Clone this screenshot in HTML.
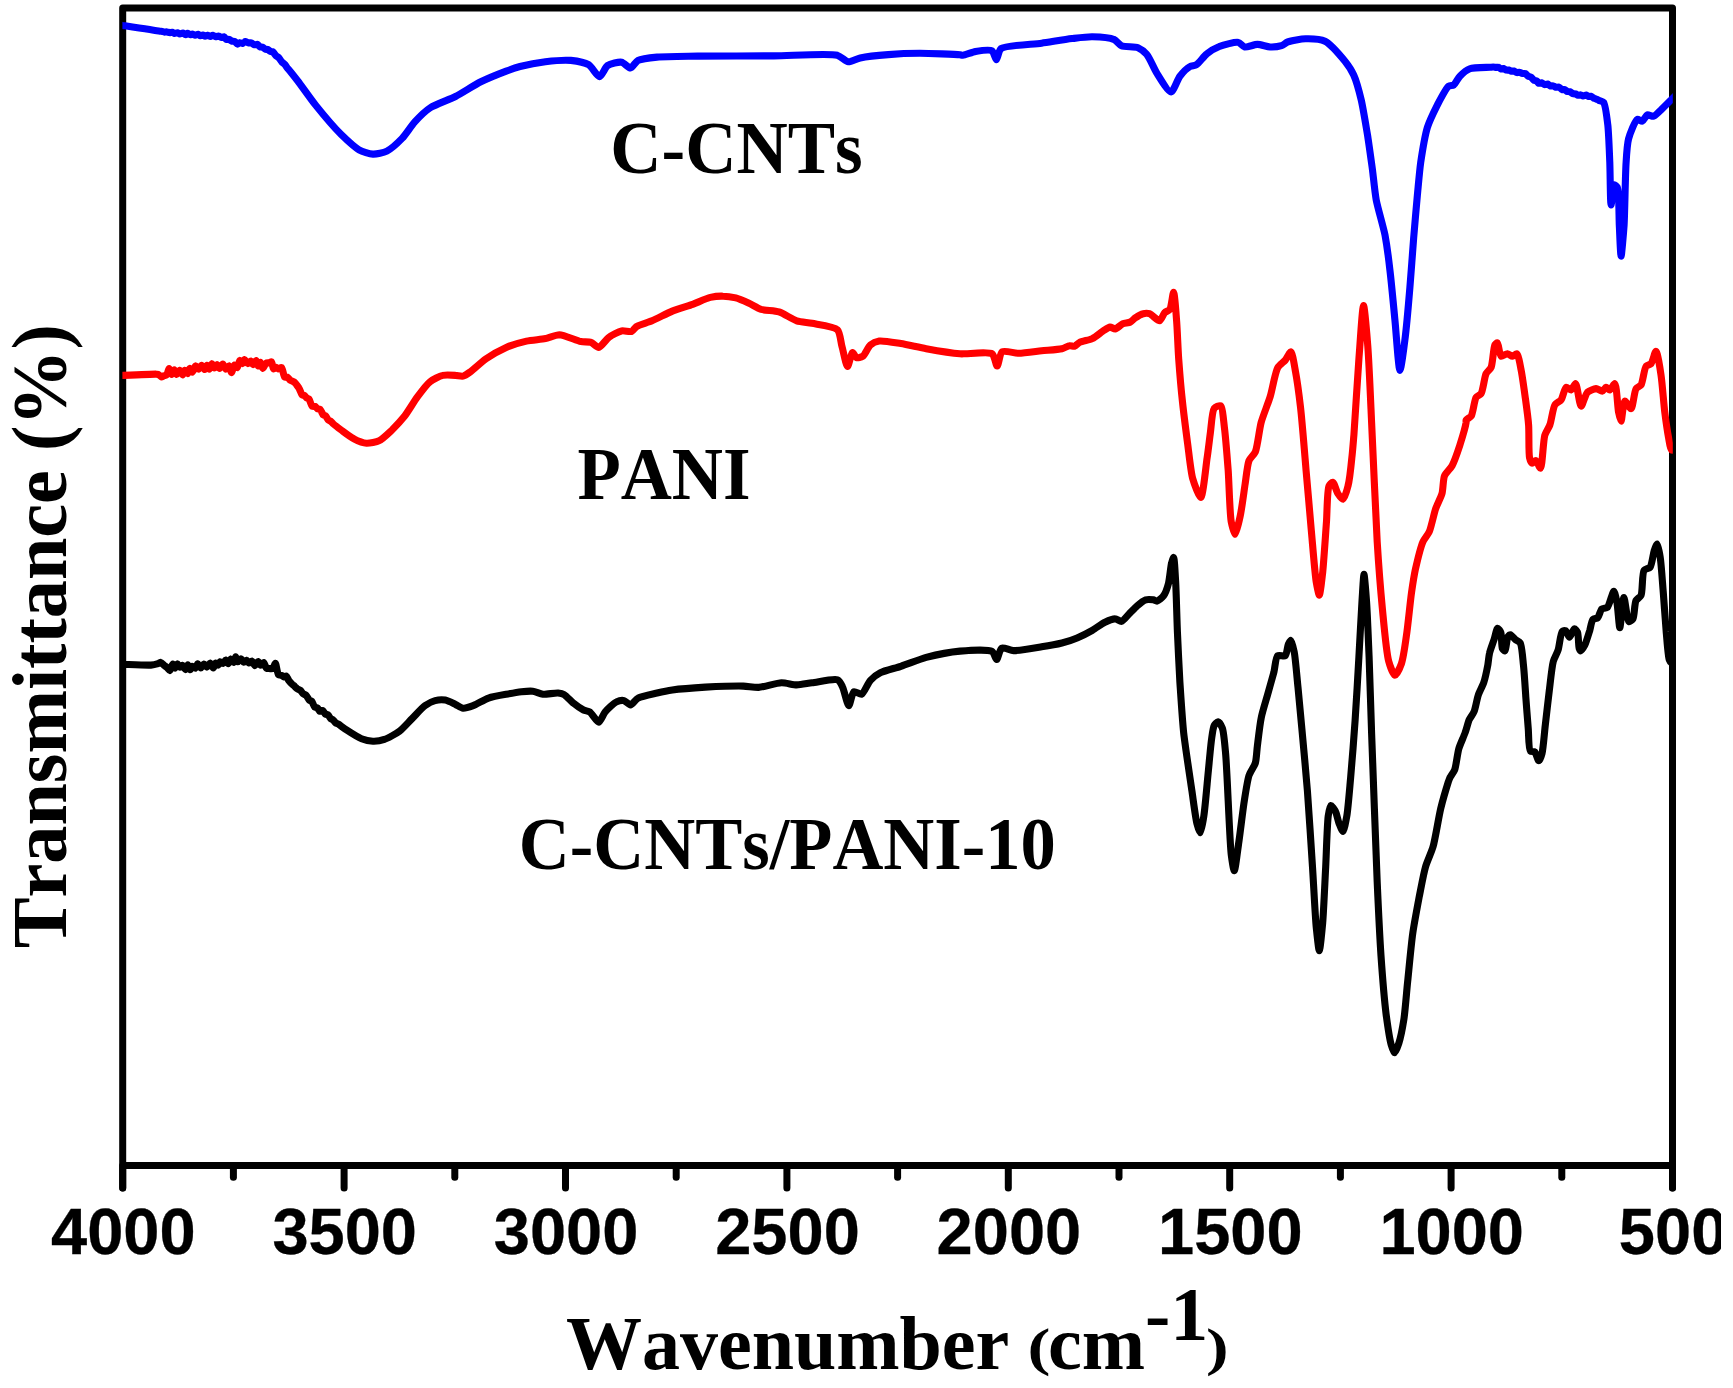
<!DOCTYPE html>
<html><head><meta charset="utf-8"><title>FTIR</title>
<style>
html,body{margin:0;padding:0;background:#fff;}
body{width:1733px;height:1388px;overflow:hidden;}
svg{display:block;}
.serif{font-family:"Liberation Serif",serif;font-weight:bold;font-kerning:none;}
.sans{font-family:"Liberation Sans",sans-serif;font-weight:bold;font-kerning:none;}
</style></head><body>
<svg width="1733" height="1388" viewBox="0 0 1733 1388">
<rect width="1733" height="1388" fill="#fff"/>
<g stroke="#000" stroke-width="7" stroke-linecap="round" fill="none">
<line x1="122.7" y1="1165.4" x2="122.7" y2="1188" />
<line x1="233.4" y1="1165.4" x2="233.4" y2="1177.2" />
<line x1="344.1" y1="1165.4" x2="344.1" y2="1188" />
<line x1="454.8" y1="1165.4" x2="454.8" y2="1177.2" />
<line x1="565.5" y1="1165.4" x2="565.5" y2="1188" />
<line x1="676.2" y1="1165.4" x2="676.2" y2="1177.2" />
<line x1="786.9" y1="1165.4" x2="786.9" y2="1188" />
<line x1="897.6" y1="1165.4" x2="897.6" y2="1177.2" />
<line x1="1008.3" y1="1165.4" x2="1008.3" y2="1188" />
<line x1="1119.0" y1="1165.4" x2="1119.0" y2="1177.2" />
<line x1="1229.7" y1="1165.4" x2="1229.7" y2="1188" />
<line x1="1340.4" y1="1165.4" x2="1340.4" y2="1177.2" />
<line x1="1451.1" y1="1165.4" x2="1451.1" y2="1188" />
<line x1="1561.8" y1="1165.4" x2="1561.8" y2="1177.2" />
<line x1="1672.5" y1="1165.4" x2="1672.5" y2="1188" />
</g>
<g stroke="#000" stroke-width="7" fill="none" stroke-linejoin="round">
<path d="M122.7,1188 L122.7,8.1 L1672.5,8.1 L1672.5,1188" stroke-linecap="round"/>
<line x1="122.7" y1="1165.4" x2="1672.5" y2="1165.4"/>
</g>
<clipPath id="tl"><rect x="0" y="1190" width="1721" height="90"/></clipPath>
<clipPath id="pa"><rect x="122.4" y="0" width="1550.4" height="1388"/></clipPath>
<g fill="none" stroke-linejoin="round" stroke-linecap="butt" stroke-width="7.1" clip-path="url(#pa)">
<path stroke="#0000ff" d="M116.3,24.5 C116.3,24.5 120.3,25.1 122.3,25.4 C127.4,26.2 156.5,30.8 160.0,31.2 C160.8,31.3 161.7,31.3 162.3,31.4 C162.8,31.5 163.9,32.0 164.4,32.1 C165.0,32.1 166.3,31.8 166.9,31.9 C167.5,32.0 169.0,32.5 169.6,32.6 C170.2,32.6 171.6,32.2 172.2,32.3 C172.7,32.4 173.8,33.3 174.4,33.4 C175.0,33.5 176.8,32.7 177.4,32.8 C178.0,32.9 179.2,34.0 179.8,34.0 C180.4,34.1 182.3,32.9 183.0,33.1 C183.6,33.2 184.9,34.8 185.5,34.8 C186.0,34.8 187.1,33.4 187.6,33.3 C188.2,33.3 189.5,34.7 190.1,34.7 C190.6,34.8 191.7,34.1 192.3,34.1 C192.9,34.1 194.6,35.1 195.3,35.2 C196.0,35.2 197.5,34.2 198.1,34.3 C198.7,34.4 200.0,35.7 200.6,35.8 C201.1,35.8 202.2,35.0 202.7,35.0 C203.3,35.1 204.5,36.2 205.1,36.2 C205.6,36.3 207.0,35.2 207.6,35.3 C208.3,35.3 209.8,36.5 210.4,36.5 C211.0,36.5 212.2,35.3 212.8,35.3 C213.5,35.4 215.0,36.7 215.7,36.8 C216.4,36.8 217.8,35.9 218.5,36.0 C219.2,36.0 220.9,37.5 221.6,37.5 C222.2,37.6 223.5,36.7 224.0,36.8 C224.6,37.0 225.6,38.8 226.2,39.2 C226.8,39.5 228.5,39.3 229.2,39.5 C229.9,39.7 231.2,41.0 231.8,41.2 C232.5,41.5 234.1,41.1 234.7,41.4 C235.4,41.7 236.8,44.0 237.4,44.1 C238.0,44.2 239.3,42.7 239.9,42.7 C240.5,42.6 242.1,43.6 242.7,43.4 C243.3,43.3 244.6,41.6 245.3,41.5 C246.0,41.4 247.7,42.7 248.5,42.9 C249.1,43.0 250.7,42.7 251.3,42.9 C252.0,43.1 253.5,44.7 254.2,44.8 C254.9,45.0 256.8,44.2 257.5,44.4 C258.1,44.7 259.2,46.5 259.9,46.8 C260.5,47.1 262.1,47.0 262.7,47.3 C263.4,47.6 264.8,48.9 265.4,49.1 C265.9,49.4 267.1,49.3 267.6,49.5 C268.3,49.7 269.9,51.2 270.6,51.5 C271.1,51.7 272.4,51.5 272.9,51.8 C273.7,52.3 275.3,55.1 276.0,55.8 C276.6,56.3 278.1,56.9 278.6,57.4 C279.4,58.2 281.0,61.0 281.8,61.8 C282.4,62.6 284.2,63.8 284.8,64.5 C285.5,65.2 286.8,67.3 287.4,68.1 C288.1,69.0 289.7,70.7 290.5,71.7 C291.9,73.4 295.9,78.5 298.0,81.2 C301.3,85.6 311.2,99.6 315.8,105.4 C321.1,112.0 335.6,129.0 341.2,134.6 C345.6,138.9 354.8,147.5 359.0,149.8 C362.2,151.6 369.7,154.0 372.9,154.1 C376.2,154.3 383.8,152.6 386.9,151.1 C390.6,149.3 398.9,141.7 402.1,138.4 C405.4,134.9 411.6,125.4 414.8,121.9 C418.1,118.3 425.8,110.7 430.1,107.9 C435.0,104.6 449.6,99.5 455.5,96.5 C461.5,93.4 474.8,84.8 480.8,81.8 C486.7,78.9 501.2,73.0 506.2,71.1 C509.9,69.7 516.3,67.5 520.0,66.5 C525.0,65.2 539.4,62.4 545.4,61.7 C551.3,61.0 565.4,59.9 570.8,60.4 C575.3,60.9 585.1,62.7 588.6,64.7 C591.8,66.6 597.2,76.8 599.5,76.7 C601.6,76.6 605.1,67.2 607.6,65.5 C610.2,63.8 618.8,61.7 621.6,62.2 C624.0,62.6 628.5,68.2 630.4,68.0 C632.4,67.8 635.6,61.7 638.1,60.4 C641.3,58.7 651.8,57.6 657.1,57.1 C664.8,56.4 686.8,56.3 697.7,56.1 C712.7,55.9 756.9,56.0 773.9,55.9 C789.4,55.8 828.9,53.1 837.4,55.3 C841.2,56.4 845.6,61.4 848.3,61.7 C851.0,62.0 856.8,58.6 860.2,57.9 C865.3,56.8 881.4,55.1 888.2,54.6 C895.3,54.0 912.0,53.3 919.9,53.3 C928.7,53.3 956.1,54.4 960.0,54.8 C961.1,55.0 962.0,55.4 962.9,55.3 C964.8,55.2 972.4,52.1 975.5,51.5 C979.1,50.9 989.6,49.3 992.0,50.8 C993.9,51.9 995.4,59.7 996.4,59.7 C997.5,59.6 998.5,50.7 1000.9,48.7 C1005.5,45.2 1032.8,44.4 1041.6,43.2 C1049.2,42.1 1065.6,39.4 1072.0,38.6 C1077.2,38.0 1087.5,36.7 1092.3,36.8 C1097.3,36.9 1110.3,37.8 1113.9,39.4 C1116.4,40.4 1119.2,44.7 1121.5,45.7 C1124.5,47.0 1134.9,46.5 1138.0,47.7 C1140.6,48.8 1145.0,52.3 1146.9,54.6 C1149.6,57.7 1154.3,69.3 1157.1,73.6 C1159.9,78.1 1168.3,92.1 1171.0,91.9 C1173.5,91.7 1177.5,79.2 1179.9,76.2 C1182.0,73.5 1187.8,67.8 1190.1,66.5 C1191.6,65.6 1194.9,65.7 1196.4,64.7 C1198.7,63.4 1203.9,56.2 1206.6,54.1 C1209.3,51.9 1215.9,47.8 1219.3,46.5 C1223.2,44.9 1235.2,41.7 1238.3,42.4 C1240.3,42.8 1242.8,46.6 1244.7,47.0 C1247.0,47.5 1254.4,44.4 1257.4,44.4 C1260.3,44.4 1267.2,46.8 1270.1,47.0 C1272.8,47.1 1279.3,46.4 1281.5,45.7 C1283.3,45.1 1285.9,42.6 1287.8,41.9 C1290.9,40.8 1301.4,38.9 1305.6,38.8 C1310.0,38.7 1320.8,39.2 1325.0,41.2 C1330.1,43.7 1341.4,56.8 1345.0,61.2 C1347.7,64.6 1352.0,71.1 1353.7,75.0 C1355.9,79.8 1359.7,93.6 1361.2,99.9 C1363.0,107.4 1366.1,126.7 1367.5,134.9 C1368.8,143.1 1371.4,162.1 1372.5,169.9 C1373.4,177.2 1374.9,192.7 1376.2,199.9 C1377.7,207.8 1383.3,226.8 1385.0,235.0 C1386.5,243.1 1388.9,261.1 1389.9,270.0 C1391.2,280.6 1393.8,308.2 1394.9,319.9 C1396.1,331.7 1398.6,370.4 1399.9,370.4 C1401.0,370.4 1403.9,348.0 1404.9,339.9 C1406.3,329.3 1408.9,299.5 1409.9,287.4 C1410.9,275.7 1412.8,248.7 1413.7,237.5 C1414.5,227.1 1416.6,204.2 1417.4,194.9 C1418.2,186.8 1419.6,170.1 1420.7,162.4 C1421.9,154.4 1425.2,134.6 1427.4,127.4 C1429.3,121.5 1434.9,109.9 1437.4,104.9 C1439.8,100.3 1446.2,88.0 1448.7,86.2 C1449.9,85.3 1452.6,85.7 1453.7,85.0 C1455.3,83.9 1458.1,78.0 1459.9,76.2 C1461.8,74.2 1467.0,69.8 1469.9,68.7 C1473.6,67.3 1487.3,67.5 1490.0,67.3 C1491.1,67.2 1492.5,67.0 1493.2,67.0 C1493.9,67.0 1495.5,67.4 1496.1,67.4 C1496.7,67.4 1498.0,67.1 1498.5,67.3 C1499.1,67.4 1500.2,68.8 1500.8,68.9 C1501.4,69.1 1502.8,68.4 1503.4,68.5 C1504.1,68.7 1505.4,69.8 1506.1,70.0 C1506.7,70.2 1508.5,70.0 1509.1,70.1 C1509.7,70.3 1510.9,71.1 1511.5,71.2 C1512.0,71.3 1513.3,70.9 1513.9,71.0 C1514.6,71.2 1516.3,72.5 1517.0,72.6 C1517.6,72.7 1518.7,72.1 1519.2,72.2 C1519.9,72.3 1521.7,73.4 1522.5,73.5 C1523.1,73.6 1524.7,73.3 1525.3,73.5 C1526.0,73.8 1527.4,75.8 1528.1,76.2 C1528.8,76.6 1530.4,76.7 1531.0,77.1 C1531.7,77.6 1533.1,79.7 1533.9,80.2 C1534.5,80.5 1536.1,80.5 1536.6,80.9 C1537.2,81.2 1538.2,83.1 1538.8,83.3 C1539.3,83.5 1540.8,82.7 1541.4,82.8 C1542.2,83.0 1543.9,84.4 1544.6,84.6 C1545.3,84.7 1546.9,83.9 1547.5,84.0 C1548.2,84.2 1549.3,85.6 1550.0,85.8 C1550.6,86.0 1552.4,85.7 1553.1,85.9 C1553.8,86.0 1555.3,87.1 1556.0,87.3 C1556.7,87.4 1558.3,86.9 1558.9,87.1 C1559.7,87.3 1561.4,89.3 1562.1,89.6 C1562.7,89.8 1564.2,89.4 1564.8,89.6 C1565.4,89.8 1566.5,91.1 1567.0,91.4 C1567.6,91.6 1569.1,91.4 1569.7,91.6 C1570.5,91.9 1572.1,93.4 1572.9,93.7 C1573.5,93.9 1575.1,93.8 1575.8,93.9 C1576.4,94.1 1577.5,95.2 1578.1,95.3 C1578.7,95.4 1580.0,94.8 1580.6,94.9 C1581.2,95.0 1582.5,95.9 1583.2,96.0 C1583.9,96.0 1585.6,95.0 1586.2,95.1 C1586.8,95.2 1588.0,96.4 1588.5,96.5 C1589.0,96.6 1590.2,96.0 1590.8,96.2 C1591.5,96.3 1593.3,97.9 1594.0,98.3 C1594.7,98.6 1596.4,99.1 1597.0,99.3 C1597.5,99.6 1598.5,100.2 1599.1,100.5 C1599.9,100.9 1602.7,101.4 1603.6,102.4 C1605.4,104.8 1607.1,119.0 1607.8,124.9 C1608.7,132.5 1609.4,153.4 1609.8,162.4 C1610.2,172.0 1610.3,204.8 1611.1,204.9 C1611.6,204.9 1613.0,185.4 1614.3,184.9 C1614.9,184.7 1616.8,186.3 1617.3,187.4 C1619.1,190.9 1618.9,216.6 1619.3,225.0 C1619.7,232.6 1620.5,256.2 1621.1,256.2 C1621.6,256.2 1623.5,233.5 1624.1,225.0 C1624.8,212.9 1625.3,173.5 1626.1,162.4 C1626.5,155.5 1627.2,143.8 1628.6,138.7 C1629.9,133.8 1635.1,120.4 1637.3,119.4 C1638.4,119.0 1641.2,121.5 1642.3,121.2 C1643.6,120.8 1645.9,115.4 1647.3,114.9 C1648.6,114.5 1652.1,116.5 1653.5,116.2 C1655.3,115.7 1659.2,111.7 1661.0,109.9 C1663.4,107.7 1670.1,100.9 1672.3,98.7 C1673.9,97.1 1678.3,92.7 1678.3,92.7"/>
<path stroke="#ff0000" d="M116.3,375.6 C116.3,375.6 120.4,375.4 122.3,375.4 C127.0,375.2 154.9,374.0 155.9,374.1 C155.9,374.1 155.9,374.1 156.0,374.1 C156.2,374.2 158.1,374.4 158.7,374.7 C159.4,375.0 160.9,376.9 161.5,377.0 C162.0,377.0 163.1,376.1 163.7,375.9 C164.3,375.6 166.1,375.3 166.7,374.7 C167.5,373.9 168.5,368.6 169.1,368.6 C169.7,368.6 171.1,374.4 171.7,374.4 C172.3,374.5 173.8,369.7 174.3,369.7 C174.9,369.7 176.0,374.3 176.6,374.4 C177.2,374.4 179.0,370.3 179.7,370.4 C180.4,370.4 182.0,374.9 182.6,374.9 C183.2,374.8 184.2,370.3 184.8,370.2 C185.4,370.2 187.0,373.8 187.6,373.7 C188.2,373.7 189.1,368.5 189.7,368.4 C190.2,368.4 191.7,372.3 192.3,372.2 C193.1,372.2 194.6,366.0 195.4,365.9 C196.1,365.8 197.9,369.3 198.6,369.2 C199.3,369.2 200.9,365.3 201.6,365.3 C202.3,365.3 204.1,369.6 204.8,369.5 C205.4,369.5 206.4,365.4 207.0,365.3 C207.5,365.3 208.8,369.2 209.3,369.2 C209.9,369.2 211.3,363.8 211.9,363.8 C212.4,363.7 213.7,368.0 214.3,368.0 C214.9,368.1 216.3,364.5 216.9,364.5 C217.5,364.5 219.0,368.4 219.6,368.4 C220.3,368.4 222.0,364.0 222.8,364.0 C223.5,364.0 225.1,369.1 225.9,369.1 C226.6,369.2 228.6,365.7 229.2,365.8 C229.9,366.0 230.8,372.5 231.4,372.6 C232.1,372.6 233.8,365.2 234.6,365.0 C235.2,364.9 236.9,367.8 237.4,367.6 C238.1,367.4 239.0,360.5 239.7,360.4 C240.3,360.3 241.9,363.6 242.5,363.6 C243.1,363.5 244.0,359.6 244.6,359.6 C245.3,359.5 247.1,363.6 247.9,363.6 C248.5,363.7 250.3,361.0 250.9,361.1 C251.5,361.2 252.6,364.5 253.1,364.6 C253.8,364.6 255.5,360.5 256.1,360.6 C256.7,360.7 257.7,365.9 258.2,366.0 C258.7,366.0 259.9,362.2 260.4,362.2 C261.0,362.3 262.2,368.3 262.8,368.4 C263.5,368.4 265.2,363.8 266.1,363.3 C266.7,362.8 268.6,363.0 269.3,362.8 C269.9,362.6 271.1,361.7 271.5,361.9 C272.2,362.3 272.8,368.7 273.6,368.9 C274.1,369.1 275.6,367.4 276.2,367.4 C276.7,367.4 277.8,368.8 278.4,368.9 C279.1,368.9 280.9,367.3 281.5,367.6 C282.6,368.1 283.7,376.3 284.7,377.1 C285.2,377.5 286.7,376.8 287.2,377.1 C287.9,377.4 289.3,379.4 289.9,379.9 C290.4,380.3 291.5,380.8 292.0,381.0 C292.5,381.3 293.7,381.8 294.2,382.1 C294.8,382.6 295.9,384.1 296.5,384.7 C297.1,385.5 298.4,387.2 299.0,388.2 C299.8,389.4 301.2,393.9 302.0,394.7 C302.5,395.1 303.9,395.2 304.4,395.5 C305.0,395.9 306.2,397.6 306.8,398.0 C307.3,398.4 308.5,398.6 309.0,399.0 C309.8,399.9 311.2,405.5 312.1,406.2 C312.8,406.6 314.5,406.3 315.2,406.5 C315.8,406.8 316.9,408.4 317.5,408.8 C318.1,409.1 319.7,409.1 320.3,409.6 C321.1,410.3 322.6,414.4 323.4,415.1 C323.8,415.5 325.1,415.4 325.5,415.8 C326.3,416.3 327.7,419.5 328.4,420.1 C328.9,420.6 330.2,420.9 330.7,421.3 C331.3,421.7 332.2,422.9 332.9,423.5 C334.2,424.7 339.0,428.4 341.2,430.0 C343.8,431.9 350.8,437.3 353.9,438.8 C356.8,440.3 363.6,443.0 366.6,443.2 C369.5,443.3 376.5,442.0 379.3,440.6 C382.5,439.1 389.1,432.7 392.0,430.0 C395.0,427.0 401.8,419.6 404.7,416.0 C407.8,412.0 414.3,401.1 417.4,396.9 C420.2,393.1 426.8,384.3 430.1,381.7 C432.8,379.5 439.7,376.1 442.8,375.4 C445.6,374.7 452.9,375.2 455.5,375.4 C457.5,375.5 461.4,376.5 463.1,376.1 C464.9,375.7 468.7,373.0 470.7,371.6 C473.7,369.4 482.0,361.6 485.9,358.9 C490.2,355.9 501.4,349.5 506.2,347.4 C510.9,345.4 521.9,342.1 526.5,341.1 C531.0,340.1 541.3,339.4 545.4,338.6 C548.9,337.8 555.8,334.7 559.4,334.7 C563.9,334.8 576.8,340.8 580.9,341.6 C583.7,342.1 589.0,341.6 591.1,342.4 C593.1,343.1 596.9,347.6 598.7,347.4 C601.0,347.2 606.2,339.2 608.9,337.3 C611.5,335.4 618.7,331.5 621.6,330.9 C624.0,330.4 629.9,332.2 631.7,331.4 C633.3,330.8 635.1,327.4 636.8,326.4 C639.3,324.8 648.3,322.4 652.0,320.8 C656.5,318.9 667.5,313.1 672.3,311.1 C677.0,309.2 688.1,305.9 692.7,304.3 C697.0,302.7 706.6,298.3 710.4,297.4 C713.6,296.7 720.2,296.1 723.1,296.2 C726.1,296.2 732.9,297.2 735.8,297.9 C738.8,298.7 745.6,301.7 748.5,303.0 C751.5,304.3 757.9,308.3 761.2,309.4 C764.9,310.5 774.9,310.6 779.0,311.9 C783.2,313.2 792.7,319.5 796.7,320.8 C800.4,322.0 808.0,322.5 812.0,323.3 C817.2,324.4 834.0,326.4 837.4,329.7 C840.1,332.3 840.8,342.1 841.9,346.2 C843.2,350.7 846.2,366.4 847.5,366.5 C848.7,366.5 851.3,352.7 852.6,352.5 C853.4,352.4 855.2,357.1 856.4,357.6 C857.6,358.0 861.4,357.2 862.8,356.3 C864.8,355.0 868.2,346.7 870.4,344.9 C872.2,343.4 876.7,341.5 879.3,341.1 C883.1,340.5 895.6,342.8 900.8,343.6 C906.5,344.5 919.9,347.6 926.2,348.7 C933.5,350.0 955.5,353.4 960.0,353.8 C961.8,353.9 963.7,353.8 965.4,353.8 C969.2,353.8 988.5,351.4 992.0,353.8 C994.6,355.5 996.0,366.0 997.1,366.0 C998.4,365.9 999.8,353.3 1002.2,351.8 C1004.7,350.2 1014.5,353.3 1018.7,353.3 C1023.6,353.2 1036.4,351.3 1041.6,350.7 C1046.4,350.2 1058.3,349.6 1061.9,348.7 C1064.1,348.2 1067.9,345.9 1069.5,345.7 C1070.8,345.5 1073.4,346.5 1074.6,346.2 C1075.8,345.8 1078.1,343.1 1079.6,342.4 C1081.9,341.2 1089.6,339.9 1092.3,338.6 C1095.0,337.3 1100.3,332.9 1102.5,331.4 C1104.4,330.3 1108.5,327.3 1110.1,327.1 C1111.4,327.0 1113.9,329.1 1115.2,328.9 C1116.8,328.7 1121.0,324.6 1122.8,323.8 C1124.5,323.1 1128.9,322.8 1130.4,322.0 C1131.8,321.3 1134.1,318.7 1135.5,317.7 C1137.0,316.7 1141.4,314.1 1143.1,313.7 C1144.6,313.3 1147.9,313.2 1149.5,313.7 C1151.7,314.4 1157.8,321.2 1159.6,320.8 C1161.2,320.5 1163.3,314.0 1164.7,312.7 C1165.8,311.6 1168.8,310.7 1169.8,309.4 C1171.4,307.1 1172.8,292.3 1173.6,292.3 C1174.5,292.4 1176.1,313.7 1176.6,320.8 C1177.3,329.0 1178.0,349.7 1178.7,358.9 C1179.4,368.6 1181.4,392.1 1182.5,402.0 C1183.5,411.7 1186.3,433.5 1187.5,442.7 C1188.7,451.2 1190.7,471.3 1192.6,478.2 C1194.1,483.5 1199.2,497.6 1200.8,497.4 C1202.9,497.2 1205.9,466.3 1207.1,458.1 C1208.1,451.5 1209.6,438.4 1210.4,432.5 C1211.2,426.8 1212.1,411.1 1214.2,408.4 C1215.3,407.0 1219.4,405.2 1220.6,405.8 C1222.6,407.0 1223.6,421.5 1224.4,427.4 C1225.5,435.7 1227.4,460.1 1228.2,470.6 C1229.0,482.0 1229.8,513.7 1231.2,521.6 C1232.0,525.6 1234.1,534.3 1235.1,534.3 C1236.2,534.2 1239.1,521.3 1240.1,516.5 C1241.6,510.0 1244.1,490.5 1245.2,483.5 C1246.1,477.7 1247.4,464.6 1249.0,460.6 C1250.1,457.9 1254.1,454.6 1255.4,451.7 C1257.4,447.0 1259.4,428.9 1261.2,422.3 C1262.9,416.1 1268.2,403.1 1270.1,396.9 C1272.1,390.4 1275.2,372.2 1277.7,367.8 C1279.2,365.1 1283.7,362.0 1285.3,360.1 C1286.8,358.3 1289.8,351.6 1290.9,351.8 C1292.4,352.0 1294.5,366.2 1295.5,371.6 C1296.8,378.6 1299.4,397.6 1300.5,407.1 C1302.0,419.8 1304.9,456.2 1306.1,470.8 C1307.4,484.7 1310.0,515.9 1311.2,529.2 C1312.4,541.9 1314.9,574.4 1316.3,582.5 C1317.0,586.5 1318.7,595.2 1319.3,595.2 C1320.2,595.1 1321.9,578.7 1322.7,572.3 C1323.7,562.8 1325.7,532.4 1326.5,521.6 C1327.1,512.5 1327.2,490.0 1329.0,486.0 C1329.7,484.5 1332.0,482.0 1332.8,482.2 C1334.1,482.4 1336.5,491.5 1337.9,493.6 C1339.0,495.3 1341.9,499.4 1343.0,499.2 C1344.4,498.9 1347.1,489.7 1348.0,486.0 C1349.4,480.8 1351.2,464.3 1351.8,458.1 C1352.5,452.5 1353.3,442.0 1353.9,435.0 C1354.8,422.4 1357.7,375.1 1358.9,358.9 C1360.0,345.3 1362.4,305.6 1363.5,305.5 C1364.5,305.5 1367.0,335.2 1367.8,346.2 C1369.0,361.2 1370.7,402.6 1371.6,422.3 C1372.8,447.1 1375.8,518.1 1377.2,541.9 C1378.3,559.6 1380.9,593.3 1382.3,607.9 C1383.6,621.0 1386.3,652.9 1388.7,661.2 C1389.9,665.6 1393.5,675.1 1395.0,675.2 C1396.4,675.2 1400.2,667.1 1401.4,663.7 C1403.1,658.8 1405.4,643.1 1406.4,635.8 C1407.8,626.9 1410.3,601.1 1411.5,592.7 C1412.4,586.5 1414.1,575.4 1415.3,569.8 C1416.7,563.6 1420.8,546.7 1422.9,541.9 C1424.3,538.8 1428.0,534.7 1429.3,531.7 C1431.1,527.6 1434.0,513.6 1435.6,508.9 C1437.0,504.9 1440.9,497.4 1442.0,493.6 C1443.1,489.7 1443.1,479.3 1444.5,475.9 C1445.7,473.0 1450.5,468.6 1452.1,465.7 C1454.2,461.9 1458.2,450.3 1459.8,445.4 C1461.4,440.3 1465.7,425.3 1466.1,422.5 C1466.2,421.6 1465.8,420.5 1466.2,419.9 C1466.6,419.0 1470.2,417.6 1471.2,416.1 C1472.9,413.6 1474.4,400.0 1476.1,397.4 C1477.1,395.9 1480.2,395.1 1481.1,393.6 C1482.9,391.0 1484.5,376.9 1486.1,373.7 C1487.1,371.6 1490.2,369.5 1491.1,367.4 C1492.7,363.9 1493.5,347.3 1494.9,344.9 C1495.4,344.0 1496.9,342.7 1497.4,342.9 C1498.5,343.3 1499.5,355.4 1501.1,356.2 C1502.2,356.7 1506.0,353.6 1507.4,353.7 C1508.6,353.7 1511.2,356.2 1512.4,356.2 C1513.5,356.1 1516.0,353.3 1516.9,353.7 C1518.4,354.3 1520.3,365.7 1521.1,369.9 C1522.2,375.1 1524.0,388.8 1524.9,394.9 C1525.8,401.6 1528.1,417.7 1528.6,424.9 C1529.2,432.4 1528.5,453.8 1529.6,458.1 C1530.0,459.9 1531.3,462.9 1532.1,463.2 C1532.8,463.4 1535.1,460.4 1535.9,460.6 C1537.1,460.9 1539.6,468.4 1540.5,468.2 C1542.2,467.9 1543.2,440.7 1544.8,435.2 C1545.8,432.0 1548.8,427.7 1549.9,424.9 C1551.3,421.0 1553.0,407.8 1554.9,404.9 C1556.0,403.0 1559.9,401.5 1561.1,399.9 C1562.7,397.8 1564.5,388.0 1566.1,387.4 C1567.1,387.0 1570.1,390.1 1571.1,389.9 C1572.3,389.6 1574.7,383.5 1575.6,383.6 C1577.2,384.0 1579.5,406.0 1581.1,406.1 C1582.4,406.3 1585.3,394.4 1587.3,392.4 C1589.0,390.8 1594.2,388.7 1596.1,388.6 C1597.7,388.6 1601.1,391.4 1602.3,391.1 C1603.4,390.9 1605.2,387.5 1606.1,387.4 C1606.9,387.3 1608.9,390.0 1609.8,389.9 C1611.0,389.7 1613.9,383.4 1614.8,383.6 C1616.6,384.1 1617.6,407.6 1618.6,412.4 C1619.1,415.0 1620.5,421.2 1621.1,421.1 C1621.9,421.1 1623.2,401.6 1624.8,401.1 C1625.9,400.8 1629.9,408.9 1631.1,408.6 C1632.8,408.2 1634.3,391.3 1636.1,388.6 C1637.0,387.2 1640.1,386.3 1641.1,384.9 C1642.8,382.3 1644.2,368.4 1646.1,366.2 C1647.0,365.0 1650.0,364.7 1651.0,363.7 C1652.6,362.0 1655.0,351.1 1656.0,351.2 C1657.4,351.3 1660.1,368.7 1661.0,374.9 C1662.2,382.6 1663.8,404.5 1664.8,412.4 C1665.6,418.8 1667.6,432.5 1668.5,437.4 C1669.2,440.8 1670.0,448.8 1671.5,450.0 C1672.5,450.8 1677.5,450.0 1677.5,450.0"/>
<path stroke="#000000" d="M116.3,664.1 C116.3,664.1 120.4,664.2 122.3,664.3 C126.5,664.4 146.3,665.4 150.8,665.1 C153.0,664.9 156.7,664.0 158.0,663.6 C158.9,663.4 160.3,662.3 160.9,662.4 C161.7,662.5 163.4,664.8 164.1,665.4 C164.9,666.0 166.6,667.1 167.3,667.7 C168.0,668.3 169.4,670.6 169.9,670.6 C170.7,670.4 172.1,664.1 172.8,664.1 C173.3,664.0 174.4,668.1 175.0,668.1 C175.5,668.1 176.7,664.0 177.3,663.9 C177.9,663.9 179.4,667.2 180.1,667.3 C180.6,667.3 181.9,665.1 182.4,665.2 C183.1,665.3 184.9,669.7 185.6,669.6 C186.2,669.6 187.3,664.9 187.8,664.9 C188.4,664.9 189.5,669.6 190.1,669.7 C190.6,669.7 191.7,666.5 192.3,666.3 C192.9,666.2 194.8,668.4 195.4,668.3 C196.1,668.1 197.1,663.8 197.7,663.7 C198.4,663.7 200.1,667.9 200.8,667.9 C201.6,667.9 203.3,664.1 204.0,664.0 C204.7,664.0 206.2,667.1 206.9,667.1 C207.7,667.1 209.4,663.1 210.1,663.1 C210.9,663.2 212.6,668.0 213.3,667.9 C214.0,667.9 215.1,663.1 215.7,663.0 C216.2,662.9 217.5,665.2 218.0,665.1 C218.6,665.1 219.6,661.9 220.2,661.7 C220.7,661.6 222.3,663.5 223.0,663.4 C223.7,663.2 225.2,659.9 225.8,660.0 C226.4,660.0 227.7,663.7 228.3,663.6 C228.9,663.6 230.3,659.0 230.9,659.0 C231.5,658.9 233.0,662.5 233.6,662.5 C234.2,662.4 235.2,656.8 235.7,656.7 C236.2,656.7 237.1,661.7 237.8,661.8 C238.4,661.9 240.2,658.8 240.9,658.9 C241.6,658.9 243.2,662.1 243.9,662.2 C244.5,662.3 246.1,660.2 246.6,660.3 C247.2,660.3 248.2,662.8 248.8,663.0 C249.4,663.1 251.3,661.0 252.0,661.1 C252.8,661.3 254.2,665.6 254.9,665.6 C255.6,665.7 257.4,661.4 258.1,661.5 C258.8,661.5 260.0,665.3 260.6,665.3 C261.2,665.4 263.0,662.4 263.6,662.5 C264.4,662.7 265.7,667.7 266.6,668.3 C267.2,668.7 268.9,668.5 269.6,668.6 C270.4,668.6 272.2,668.9 272.8,668.5 C273.7,668.0 274.8,663.1 275.3,663.2 C276.1,663.2 277.3,673.8 278.5,674.8 C279.1,675.4 281.0,675.1 281.6,675.3 C282.3,675.5 283.5,676.8 284.1,676.9 C284.6,676.9 285.9,675.9 286.4,676.1 C287.0,676.3 288.0,679.3 288.6,680.2 C289.3,681.1 291.6,683.6 291.9,683.9 C291.9,683.9 291.9,684.0 292.0,684.1 C292.2,684.3 294.4,686.1 295.0,686.7 C295.6,687.2 296.8,688.5 297.4,688.9 C298.0,689.3 299.7,689.8 300.3,690.3 C301.0,690.9 302.5,693.2 303.3,693.8 C303.9,694.3 305.6,694.9 306.2,695.5 C307.0,696.2 308.5,699.5 309.3,700.2 C309.8,700.7 311.3,700.8 311.8,701.3 C312.6,702.1 313.8,706.4 314.7,707.1 C315.3,707.6 316.9,707.5 317.4,707.9 C318.1,708.4 319.1,711.1 319.8,711.3 C320.4,711.5 322.1,710.3 322.7,710.5 C323.4,710.7 324.5,713.5 325.2,714.0 C325.8,714.5 327.6,714.6 328.2,715.1 C328.9,715.6 330.1,718.3 330.8,718.8 C331.3,719.3 332.6,719.5 333.1,719.9 C333.7,720.4 334.9,722.2 335.5,722.7 C336.1,723.2 337.5,723.6 338.3,724.1 C339.7,725.0 344.1,728.4 346.3,729.8 C349.2,731.7 358.1,737.4 361.5,738.7 C364.3,739.8 370.3,741.1 372.9,741.2 C375.6,741.3 381.6,740.4 384.4,739.4 C387.8,738.3 396.4,733.5 399.6,731.1 C402.9,728.6 409.3,721.3 412.3,718.4 C415.3,715.4 422.0,707.8 425.0,705.7 C427.4,704.0 432.7,701.2 435.1,700.6 C437.5,700.0 443.0,699.7 445.3,700.1 C447.7,700.5 453.3,703.4 455.5,704.4 C457.4,705.3 461.1,708.0 463.1,708.2 C465.2,708.5 470.7,706.6 473.2,705.7 C476.5,704.5 484.7,699.4 488.5,698.1 C492.4,696.7 502.2,695.0 506.2,694.3 C509.9,693.6 518.2,692.1 521.5,691.7 C524.3,691.4 530.2,690.9 532.7,691.2 C535.2,691.5 540.2,694.0 542.9,694.3 C546.0,694.6 555.3,692.7 558.1,693.0 C559.9,693.2 562.9,693.9 564.4,694.8 C566.5,695.9 571.1,701.4 573.3,703.1 C575.5,704.9 581.3,708.9 583.5,710.0 C585.1,710.8 588.4,711.1 589.8,712.0 C591.9,713.4 596.9,722.3 598.7,722.2 C600.4,722.0 603.2,714.3 605.1,712.0 C607.2,709.5 613.9,703.1 616.5,701.9 C618.3,701.0 622.5,700.2 624.1,700.6 C625.7,701.0 628.9,705.0 630.4,704.9 C632.2,704.8 635.7,699.3 638.1,698.1 C641.4,696.3 652.9,694.0 657.1,693.0 C660.8,692.1 668.1,690.5 672.3,689.9 C678.5,689.1 697.4,687.6 705.3,687.1 C713.9,686.7 736.5,685.9 743.4,686.1 C747.8,686.3 754.8,687.6 758.7,687.4 C763.5,687.1 776.7,683.0 781.5,682.8 C785.4,682.7 793.2,684.9 796.7,684.9 C800.3,684.9 808.0,683.3 812.0,682.8 C817.2,682.2 833.9,678.3 837.4,679.8 C839.4,680.6 841.4,684.5 842.4,686.6 C844.1,689.9 847.4,705.7 848.8,705.7 C850.0,705.7 852.0,692.6 853.9,691.7 C855.3,691.0 859.9,694.8 861.5,694.3 C863.8,693.4 868.0,682.9 870.4,680.3 C872.5,678.0 877.6,674.2 880.5,672.7 C884.3,670.7 895.9,668.0 900.8,666.3 C906.5,664.5 919.8,659.2 926.2,657.4 C933.5,655.5 952.2,651.8 960.0,651.1 C967.5,650.4 988.1,649.1 992.0,651.4 C994.2,652.6 995.6,659.5 996.6,659.5 C997.8,659.4 999.7,649.1 1001.7,648.1 C1003.7,647.1 1010.2,650.5 1013.6,650.6 C1018.8,650.8 1035.6,647.8 1041.6,646.8 C1046.7,646.0 1057.5,644.1 1061.9,643.0 C1065.7,642.0 1073.6,639.4 1077.1,637.9 C1080.7,636.4 1089.0,632.2 1092.3,630.3 C1095.5,628.5 1102.2,623.5 1105.0,622.2 C1107.5,621.0 1113.1,618.8 1115.2,618.9 C1116.9,618.9 1120.1,621.7 1121.5,621.4 C1123.4,621.0 1127.4,615.6 1129.2,613.8 C1130.9,612.0 1134.9,607.8 1136.8,606.2 C1138.7,604.5 1143.6,600.5 1145.7,599.8 C1147.4,599.3 1151.8,599.6 1153.3,599.8 C1154.3,600.0 1156.1,601.3 1157.1,601.1 C1158.4,600.8 1162.2,597.7 1163.4,596.0 C1165.0,593.9 1167.6,586.7 1168.5,583.3 C1169.6,579.2 1170.7,566.2 1171.6,563.0 C1172.0,561.3 1173.2,557.4 1173.6,557.4 C1174.4,557.5 1175.2,574.3 1175.6,580.8 C1176.2,590.4 1176.9,619.7 1177.4,631.6 C1177.9,643.4 1179.2,670.5 1179.9,682.3 C1180.7,694.2 1182.4,720.9 1183.7,733.1 C1185.2,746.2 1190.2,779.2 1191.9,790.8 C1193.2,799.6 1195.6,818.6 1197.0,823.8 C1197.7,826.6 1199.6,832.7 1200.3,832.7 C1201.2,832.6 1203.1,821.0 1203.8,816.2 C1205.1,808.2 1207.4,780.2 1208.4,770.5 C1209.2,762.3 1210.8,744.0 1211.7,738.2 C1212.2,734.5 1213.1,727.5 1214.2,725.5 C1214.9,724.2 1217.1,721.6 1218.0,721.7 C1219.1,721.8 1221.5,725.9 1222.3,728.0 C1223.8,731.9 1224.9,745.5 1225.6,753.4 C1227.1,769.1 1229.6,840.7 1231.2,854.3 C1231.9,859.8 1233.5,870.8 1234.3,870.8 C1235.3,870.7 1237.8,848.8 1238.9,841.6 C1240.1,833.3 1242.7,811.7 1243.9,803.5 C1245.0,796.4 1247.3,780.7 1249.0,775.5 C1250.2,771.9 1254.4,766.1 1255.4,762.9 C1256.4,759.3 1256.8,750.3 1257.4,745.8 C1258.1,740.1 1259.9,724.0 1261.2,717.9 C1262.3,712.2 1266.0,700.4 1267.5,695.0 C1269.0,689.7 1272.6,677.1 1273.9,672.2 C1274.9,668.0 1275.7,657.2 1277.7,655.7 C1279.0,654.6 1284.1,656.6 1285.3,655.7 C1286.8,654.5 1287.5,646.2 1288.3,644.3 C1288.9,643.1 1290.3,640.4 1290.9,640.4 C1291.8,640.6 1293.5,648.4 1294.2,651.9 C1295.4,657.8 1297.1,678.8 1298.0,687.4 C1298.9,696.6 1300.8,717.5 1301.8,728.0 C1303.0,741.1 1306.2,775.4 1307.4,790.8 C1308.7,807.7 1311.4,850.2 1312.5,866.9 C1313.5,882.0 1315.2,917.1 1316.3,927.9 C1317.0,934.5 1318.6,950.7 1319.3,950.7 C1320.1,950.7 1322.0,930.5 1322.7,922.8 C1323.6,912.0 1325.0,879.7 1325.7,866.9 C1326.3,854.8 1327.2,823.6 1328.2,816.2 C1328.7,812.7 1329.8,805.7 1330.8,805.5 C1331.6,805.3 1334.5,809.4 1335.3,811.1 C1336.6,813.4 1338.1,821.2 1339.2,823.8 C1340.0,825.8 1342.2,831.5 1343.0,831.4 C1344.0,831.3 1346.0,820.6 1346.8,816.2 C1348.0,809.3 1349.7,787.9 1350.6,778.1 C1351.7,766.0 1354.2,734.2 1355.1,720.4 C1356.1,706.0 1358.1,671.3 1358.9,656.9 C1359.7,643.5 1361.3,611.7 1362.0,601.1 C1362.5,593.7 1363.5,574.4 1364.0,574.4 C1364.5,574.4 1366.0,593.7 1366.5,601.1 C1367.3,611.7 1368.5,642.9 1369.1,656.9 C1369.7,673.3 1370.9,712.4 1371.6,733.1 C1372.7,762.1 1376.0,853.5 1377.2,882.2 C1378.1,902.4 1379.9,939.6 1381.0,955.8 C1382.0,970.2 1384.7,1002.8 1386.1,1014.2 C1387.2,1022.5 1389.8,1039.9 1391.2,1044.7 C1391.9,1047.2 1393.7,1052.8 1394.5,1052.8 C1395.4,1052.8 1397.9,1046.2 1398.8,1043.4 C1400.2,1039.1 1402.9,1025.6 1403.9,1019.3 C1405.1,1011.4 1406.7,990.6 1407.7,981.2 C1408.8,970.6 1411.3,943.3 1412.8,933.0 C1414.1,924.0 1417.6,905.4 1419.1,897.4 C1420.6,890.0 1423.6,873.3 1425.5,866.9 C1427.0,861.7 1431.5,852.2 1433.1,846.6 C1435.2,839.2 1438.8,816.6 1440.7,808.6 C1442.4,801.7 1447.2,785.4 1448.3,781.9 C1448.8,780.5 1449.4,778.8 1449.9,777.7 C1450.7,776.1 1453.8,772.1 1454.7,769.7 C1456.1,766.0 1457.5,753.2 1458.8,748.7 C1460.0,744.6 1464.0,736.1 1465.2,732.5 C1466.4,729.3 1468.1,722.2 1469.3,719.6 C1470.3,717.4 1473.2,713.8 1474.1,711.5 C1475.4,708.4 1477.0,698.8 1478.2,695.3 C1479.3,692.1 1482.7,685.7 1483.8,682.4 C1485.1,678.6 1487.2,668.3 1487.9,664.6 C1488.4,661.7 1488.8,656.1 1489.5,653.3 C1490.2,650.1 1493.3,641.9 1494.3,638.8 C1495.2,636.1 1496.6,628.5 1497.6,628.3 C1498.2,628.2 1500.2,630.9 1500.8,632.3 C1501.8,634.7 1501.4,646.4 1502.4,648.5 C1502.8,649.4 1504.3,651.0 1504.8,650.9 C1505.9,650.6 1506.9,638.0 1508.1,636.4 C1508.6,635.6 1509.8,634.7 1510.5,634.7 C1511.5,634.8 1514.1,638.6 1515.3,639.6 C1516.4,640.5 1519.3,641.4 1520.2,642.8 C1521.9,645.5 1522.8,659.0 1523.4,664.6 C1524.2,671.4 1525.3,689.4 1525.8,696.9 C1526.4,704.5 1527.7,722.5 1528.3,729.3 C1528.7,734.9 1528.6,749.2 1530.4,751.1 C1531.1,751.9 1533.9,751.2 1534.7,751.9 C1536.0,752.9 1537.9,760.8 1538.8,760.8 C1539.6,760.8 1541.4,755.8 1542.0,753.5 C1543.2,749.2 1544.4,732.9 1545.2,726.0 C1546.1,718.3 1548.3,698.4 1549.3,690.5 C1550.2,683.4 1551.9,666.5 1553.3,661.4 C1554.2,658.1 1557.2,653.1 1558.1,650.1 C1559.3,646.3 1560.6,633.1 1562.2,631.5 C1562.8,630.8 1564.7,630.4 1565.4,630.7 C1566.5,631.1 1568.5,637.2 1569.5,637.2 C1570.6,637.1 1573.2,628.9 1574.3,628.8 C1575.1,628.7 1577.0,631.1 1577.5,632.3 C1578.6,634.6 1578.4,646.4 1579.2,648.5 C1579.5,649.3 1580.3,650.9 1580.8,650.9 C1581.5,650.9 1583.9,646.9 1584.8,645.2 C1586.1,642.7 1588.7,633.9 1589.7,630.7 C1590.5,627.9 1591.6,620.8 1592.9,619.4 C1593.8,618.5 1596.8,618.6 1597.7,617.8 C1599.0,616.6 1600.4,610.1 1601.8,608.9 C1602.8,608.0 1606.3,608.3 1607.4,607.3 C1609.4,605.5 1612.6,591.4 1613.8,591.4 C1614.7,591.5 1616.2,598.6 1616.8,601.5 C1617.8,606.2 1619.1,627.7 1619.8,627.7 C1620.7,627.8 1622.7,597.5 1623.9,597.5 C1624.9,597.5 1627.1,621.0 1628.9,621.7 C1629.7,622.0 1632.2,619.9 1633.0,618.7 C1634.4,616.3 1634.5,603.3 1636.0,600.5 C1636.9,598.8 1640.1,597.3 1641.0,595.5 C1642.7,592.0 1642.0,573.2 1644.1,570.3 C1645.1,568.8 1649.0,568.6 1650.1,567.2 C1651.8,565.1 1653.1,554.1 1654.1,551.1 C1654.8,549.1 1656.5,544.0 1657.2,544.0 C1658.0,544.1 1659.6,553.3 1660.2,557.2 C1661.2,563.2 1662.5,583.1 1663.2,591.4 C1663.9,600.5 1665.5,623.2 1666.2,631.8 C1666.9,639.0 1668.0,656.9 1669.3,660.0 C1669.7,661.2 1670.7,662.6 1671.5,663.0 C1672.5,663.5 1677.5,663.0 1677.5,663.0"/>
</g>
<g class="sans" font-size="65" text-anchor="middle" fill="#000" stroke="#000" stroke-width="0.3" clip-path="url(#tl)">
<text x="123.3" y="1254.2">4000</text>
<text x="344.7" y="1254.2">3500</text>
<text x="566.1" y="1254.2">3000</text>
<text x="787.5" y="1254.2">2500</text>
<text x="1008.9" y="1254.2">2000</text>
<text x="1230.3" y="1254.2">1500</text>
<text x="1451.7" y="1254.2">1000</text>
<text x="1673.1" y="1254.2">500</text>
</g>
<g class="serif" fill="#000">
<text transform="translate(610.3,172.9) scale(0.9856,1.015)" font-size="72">C-CNTs</text>
<text transform="translate(577.4,498.6) scale(0.984,1.015)" font-size="72">PANI</text>
<text transform="translate(518.8,869.4) scale(0.980,1.015)" font-size="72">C-CNTs/PANI-10</text>
<text transform="translate(65.8,948.3) rotate(-90) scale(1,1.02)" font-size="76.2">Transmittance (%)</text>
<text x="566" y="1369" font-size="76">Wavenumber </text>
<text transform="translate(1027.4,1365.4) scale(1.3,1.0)" font-size="53">(</text>
<text x="1048" y="1369" font-size="76">cm</text>
<text x="1145" y="1340" font-size="76">-1</text>
<text transform="translate(1206.0,1365.4) scale(1.28,1.0)" font-size="53">)</text>
</g>
</svg>
</body></html>
